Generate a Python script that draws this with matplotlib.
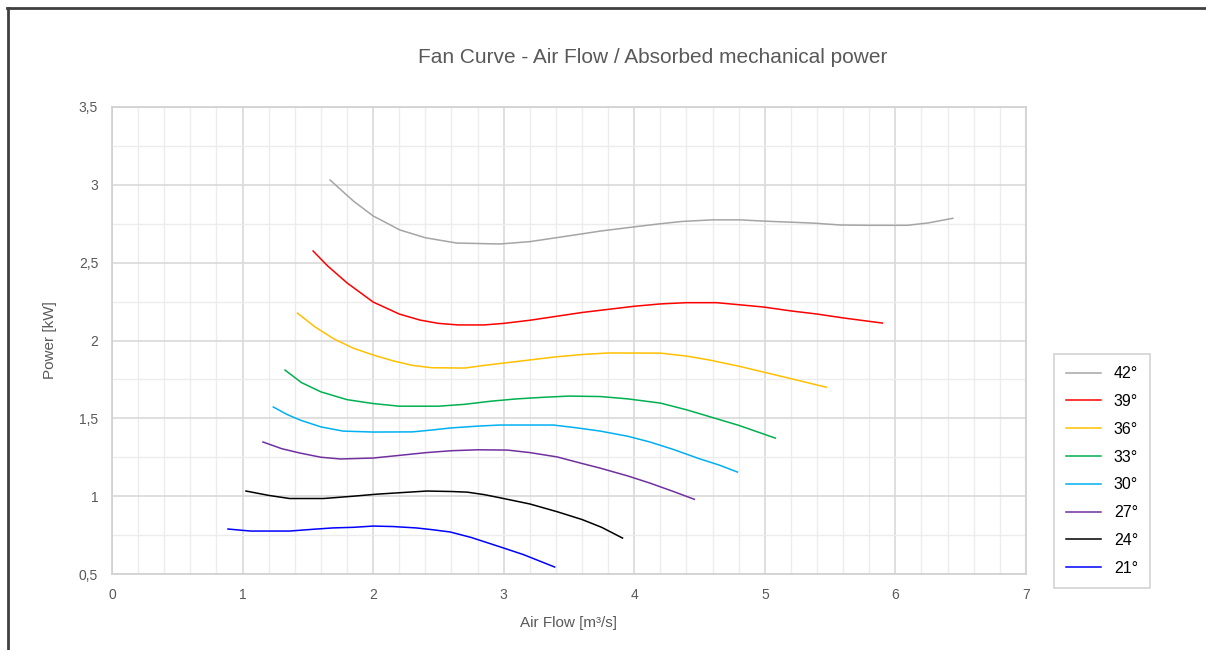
import matplotlib.pyplot as plt
from matplotlib.lines import Line2D
from matplotlib.ticker import MultipleLocator, FuncFormatter

plt.rcParams['font.family'] = ['Liberation Sans', 'DejaVu Sans']

# air flow [m3/s] and power [kW], one pair of lists per curve
x42 = [1.67, 1.75, 1.85, 2.0, 2.205, 2.40, 2.64, 2.97, 3.2, 3.4, 3.6, 3.74, 4.0, 4.2, 4.37, 4.6, 4.81, 4.99, 5.2, 5.37, 5.58, 5.8, 6.09, 6.25, 6.44]
y42 = [3.031, 2.97, 2.895, 2.80, 2.71, 2.66, 2.626, 2.62, 2.635, 2.66, 2.685, 2.703, 2.73, 2.75, 2.765, 2.775, 2.775, 2.767, 2.76, 2.754, 2.742, 2.74, 2.74, 2.755, 2.785]
x39 = [1.54, 1.65, 1.8, 2.0, 2.2, 2.36, 2.5, 2.65, 2.85, 3.0, 3.2, 3.4, 3.6, 3.8, 4.0, 4.2, 4.4, 4.63, 4.8, 4.99, 5.2, 5.40, 5.6, 5.9]
y39 = [2.575, 2.48, 2.37, 2.247, 2.17, 2.131, 2.11, 2.10, 2.10, 2.11, 2.13, 2.155, 2.18, 2.20, 2.22, 2.235, 2.243, 2.243, 2.23, 2.215, 2.19, 2.17, 2.145, 2.112]
x36 = [1.42, 1.55, 1.7, 1.85, 2.0, 2.15, 2.3, 2.45, 2.7, 2.85, 3.0, 3.2, 3.4, 3.6, 3.8, 4.2, 4.4, 4.58, 4.8, 4.99, 5.2, 5.47]
y36 = [2.176, 2.09, 2.01, 1.95, 1.907, 1.87, 1.84, 1.825, 1.823, 1.84, 1.855, 1.875, 1.895, 1.91, 1.92, 1.919, 1.90, 1.874, 1.835, 1.797, 1.755, 1.70]
x33 = [1.325, 1.45, 1.6, 1.8, 2.0, 2.2, 2.5, 2.7, 2.9, 3.1, 3.3, 3.5, 3.74, 3.95, 4.2, 4.4, 4.6, 4.8, 5.08]
y33 = [1.81, 1.73, 1.67, 1.62, 1.595, 1.578, 1.578, 1.59, 1.61, 1.625, 1.635, 1.643, 1.64, 1.625, 1.598, 1.555, 1.505, 1.455, 1.373]
x30 = [1.235, 1.34, 1.44, 1.6, 1.77, 2.0, 2.3, 2.45, 2.59, 2.8, 2.97, 3.38, 3.55, 3.74, 3.95, 4.12, 4.3, 4.5, 4.65, 4.79]
y30 = [1.573, 1.525, 1.489, 1.445, 1.418, 1.412, 1.413, 1.425, 1.438, 1.45, 1.457, 1.457, 1.44, 1.418, 1.385, 1.348, 1.30, 1.24, 1.20, 1.155]
x27 = [1.156, 1.3, 1.44, 1.6, 1.75, 2.0, 2.2, 2.41, 2.6, 2.8, 3.03, 3.2, 3.41, 3.6, 3.74, 3.95, 4.12, 4.3, 4.46]
y27 = [1.348, 1.305, 1.277, 1.25, 1.239, 1.245, 1.262, 1.28, 1.292, 1.298, 1.296, 1.28, 1.252, 1.21, 1.18, 1.13, 1.084, 1.03, 0.98]
x24 = [1.026, 1.2, 1.36, 1.62, 1.85, 2.03, 2.2, 2.41, 2.6, 2.72, 2.85, 2.97, 3.2, 3.41, 3.6, 3.75, 3.91]
y24 = [1.033, 1.005, 0.985, 0.985, 1.0, 1.013, 1.022, 1.033, 1.03, 1.026, 1.01, 0.99, 0.95, 0.90, 0.85, 0.80, 0.731]
x21 = [0.888, 1.06, 1.36, 1.55, 1.69, 1.85, 2.0, 2.15, 2.33, 2.45, 2.59, 2.75, 2.97, 3.15, 3.39]
y21 = [0.789, 0.776, 0.776, 0.788, 0.796, 0.80, 0.808, 0.805, 0.796, 0.785, 0.77, 0.735, 0.675, 0.625, 0.545]

labels = ['42°', '39°', '36°', '33°', '30°', '27°', '24°', '21°']
colors = ['#a5a5a5', '#ff0000', '#ffc000', '#00b050', '#00b0f0', '#7030a0', '#000000', '#0000ff']
xs = [x42, x39, x36, x33, x30, x27, x24, x21]
ys = [y42, y39, y36, y33, y30, y27, y24, y21]

fig = plt.figure(figsize=(12.06, 6.5), dpi=100)
ax = fig.add_axes([0.0929, 0.1169, 0.7578, 0.7185])

for x, y, c, lab in zip(xs, ys, colors, labels):
    ax.plot(x, y, color=c, lw=1.1, label=lab, solid_joinstyle='round')

ax.set_xlim(0, 7)
ax.set_ylim(0.5, 3.5)
ax.xaxis.set_major_locator(MultipleLocator(1))
ax.xaxis.set_minor_locator(MultipleLocator(0.2))
ax.yaxis.set_major_locator(MultipleLocator(0.5))
ax.yaxis.set_minor_locator(MultipleLocator(0.25))
ax.yaxis.set_major_formatter(FuncFormatter(lambda v, pos: ('%g' % v).replace('.', ',')))
ax.grid(which='major', color='#d9d9d9', lw=1.2)
ax.grid(which='minor', color='#ececec', lw=1.0)
ax.set_axisbelow(True)
ax.tick_params(which='both', length=0, colors='#595959', labelsize=10, pad=10)
for s in ax.spines.values():
    s.set_color('#d0d0d0')
    s.set_linewidth(1.2)

ax.set_xlabel('Air Flow [m³/s]', color='#595959', fontsize=11, labelpad=10)
ax.set_ylabel('Power [kW]', color='#595959', fontsize=11, labelpad=16)
fig.text(0.541, 0.912, 'Fan Curve - Air Flow / Absorbed mechanical power',
         ha='center', va='center', color='#595959', fontsize=15)

leg = fig.legend(loc='upper left', bbox_to_anchor=(0.874, 0.455), frameon=True,
                 fancybox=False, fontsize=11.5, handlelength=2.2, labelspacing=0.8,
                 borderpad=0.75, handletextpad=0.8, borderaxespad=0)
leg.get_frame().set_edgecolor('#c8c8c8')
leg.get_frame().set_linewidth(1.2)

# outer chart frame, top and left edges only
fig.add_artist(Line2D([0.006, 1.0], [0.987, 0.987], color='#404040', lw=2.0))
fig.add_artist(Line2D([0.0065, 0.0065], [0.0, 0.987], color='#404040', lw=2.0))

fig.savefig('out.png', dpi=100, facecolor='white')
